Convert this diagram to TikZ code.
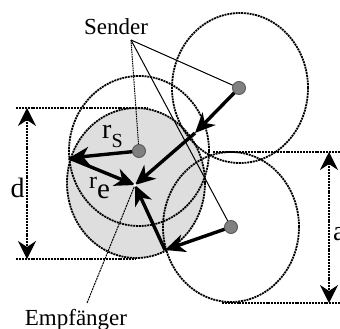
\documentclass[tikz,border=0pt]{standalone}
\usepackage{fontspec}
\setmainfont{Liberation Serif}
\usetikzlibrary{arrows.meta}
\begin{document}
\begin{tikzpicture}[x=1pt,y=-1pt,
  rng/.style={line width=1.8pt, dash pattern=on 2pt off 0.8pt},
  ext/.style={line width=1.5pt, dash pattern=on 2pt off 0.9pt},
  dim/.style={line width=1.5pt, dash pattern=on 2pt off 0.9pt,
    {Stealth[length=18pt,width=18pt,inset=6pt]}-{Stealth[length=18pt,width=18pt,inset=6pt]}},
  sig/.style={line width=3.4pt, -{Stealth[length=20pt,width=18pt,inset=6pt]}},
  lead/.style={line width=1pt},
  sdot/.style={circle, fill=gray, draw=black!65, line width=0.9pt, inner sep=0pt, minimum size=13pt},
  lbl/.style={font=\fontsize{23}{27}\selectfont, inner sep=0pt},
  big/.style={font=\fontsize{28}{32}\selectfont, inner sep=0pt}
]
\useasboundingbox (0,0) rectangle (340,329);
% key points
\coordinate (E) at (135,185);
\coordinate (L) at (69,158);
\coordinate (S1) at (139,151);
\coordinate (S2) at (239,88);
\coordinate (S3) at (231,227);
\coordinate (P2) at (195,133);
\coordinate (P3) at (165,250);
% ranges
\fill[black!13] (136,183) ellipse [x radius=69pt, y radius=75pt];
\draw[rng] (136,183) ellipse [x radius=69pt, y radius=75pt];
\draw[rng] (139,151) ellipse [x radius=70pt, y radius=75pt];
\draw[rng] (240,88) ellipse [x radius=68pt, y radius=75pt];
\draw[rng] (231,227) ellipse [x radius=68pt, y radius=75pt];
% dimension d
\coordinate (dT) at (27,108);
\coordinate (dB) at (27,259);
\coordinate (dTl) at (16,108);
\coordinate (dTr) at (148,108);
\coordinate (dBl) at (16,259);
\coordinate (dBr) at (135,259);
\draw[ext] (dTl) -- (dTr);
\draw[ext] (dBl) -- (dBr);
\draw[dim] (dT) -- (dB);
% dimension a
\coordinate (aT) at (329,152);
\coordinate (aB) at (329,303);
\coordinate (aTl) at (213,152);
\coordinate (aTr) at (340,152);
\coordinate (aBl) at (222,303);
\coordinate (aBr) at (340,303);
\draw[ext] (aTl) -- (aTr);
\draw[ext] (aBl) -- (aBr);
\draw[dim] (aT) -- (aB);
% labels and leaders
\node[lbl, anchor=base] (snd) at (116,35) {Sender};
\node[lbl, anchor=base] (emp) at (76,325) {Empfänger};
\coordinate (sndp) at (131,40);
\coordinate (empp) at (87,303);
\draw[lead, dash pattern=on 1.5pt off 0.8pt] (sndp) -- (S1);
\draw[lead] (sndp) -- (S2);
\draw[lead] (sndp) -- (S3);
\draw[lead, dash pattern=on 2pt off 0.8pt] (empp) -- (E);
% signals
\draw[sig] (S1) -- (L);
\draw[sig] (L) -- (E);
\draw[sig] (S2) -- (P2);
\draw[sig] (P2) -- (E);
\draw[sig] (S3) -- (P3);
\draw[sig] (P3) -- (E);
% senders and receiver
\node[sdot] (s1) at (S1) {};
\node[sdot] (s2) at (S2) {};
\node[sdot] (s3) at (S3) {};
\fill[white] (E) circle (1.8pt);
% text labels
\node[anchor=base west, inner sep=0pt] (rs) at (102,138)
  {\fontsize{28}{32}\selectfont r\raisebox{-9pt}{\fontsize{20}{24}\selectfont S}};
\node[anchor=base west, inner sep=0pt] (re) at (89,188)
  {\fontsize{24}{28}\selectfont r\raisebox{-10pt}{\fontsize{29}{32}\selectfont e}};
\node[big, anchor=base] (dl) at (17.5,197) {d};
\node[big, anchor=base west] (al) at (333,240) {a};
\end{tikzpicture}
\end{document}
